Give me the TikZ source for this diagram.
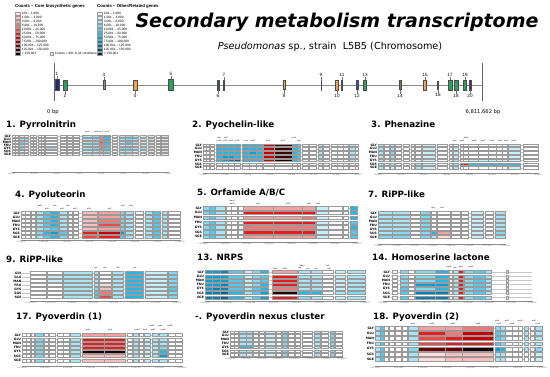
\documentclass[tikz,border=0pt]{standalone}
\usepackage{fontspec}
\setmainfont{DejaVu Sans}
\newfontfamily\narrowsf{Liberation Sans}
\usetikzlibrary{positioning}
\definecolor{core1}{HTML}{FFDCDC}
\definecolor{core2}{HTML}{FFBEBE}
\definecolor{core3}{HTML}{F8A0A0}
\definecolor{core4}{HTML}{F47878}
\definecolor{core5}{HTML}{F04848}
\definecolor{core6}{HTML}{E81C1C}
\definecolor{core7}{HTML}{C80000}
\definecolor{core8}{HTML}{9A0000}
\definecolor{core9}{HTML}{6A0000}
\definecolor{core10}{HTML}{3C0000}
\definecolor{core11}{HTML}{1A0000}
\definecolor{rel1}{HTML}{E4F8FE}
\definecolor{rel2}{HTML}{C8F0FC}
\definecolor{rel3}{HTML}{A6E6F8}
\definecolor{rel4}{HTML}{80DAF4}
\definecolor{rel5}{HTML}{50CAF0}
\definecolor{rel6}{HTML}{1EB8EA}
\definecolor{rel7}{HTML}{00A0D8}
\definecolor{rel8}{HTML}{0082B4}
\definecolor{rel9}{HTML}{006490}
\definecolor{rel10}{HTML}{00466A}
\definecolor{rel11}{HTML}{002A44}
\definecolor{lowgray}{HTML}{E2E2E2}
\definecolor{boxgray}{HTML}{9A9A9A}
\definecolor{axgray}{HTML}{8A8A8A}
\definecolor{chrNavy}{HTML}{1F2A7A}
\definecolor{chrGreen}{HTML}{2E9E5E}
\definecolor{chrSlate}{HTML}{8090B0}
\definecolor{chrOrange}{HTML}{F0A050}
\definecolor{chrDkGreen}{HTML}{2F5F3F}
\definecolor{chrDark}{HTML}{404040}
\definecolor{chrBlue}{HTML}{3050B0}
\definecolor{chrBrown}{HTML}{8B6F47}
\definecolor{chrOlive}{HTML}{6B6B2F}
\definecolor{chrPurple}{HTML}{6A1B7A}
\pgfkeys{/pgf/number format/.cd, fixed, precision=0,
  set thousands separator={{{,}}}, assume math mode=true}
\tikzset{
  maintitle/.style={inner sep=0pt, font=\bfseries\itshape\fontsize{19}{22}\selectfont},
  subtitle/.style={inner sep=0pt, font=\fontsize{9.7}{11}\selectfont},
  paneltitle/.style={anchor=base west, inner sep=0pt, font=\bfseries\fontsize{8.7}{10}\selectfont},
  rowlab/.style={anchor=east, inner sep=0.4pt, font=\bfseries\fontsize{3.1}{3.2}\selectfont},
  rowline/.style={draw=black!22, line width=0.2pt},
  gene/.style={draw=boxgray, line width=0.2pt},
  axisline/.style={draw=axgray, line width=0.25pt},
  ticklab/.style={inner sep=0pt, font=\fontsize{1.8}{2}\selectfont, text=black!60},
  genelab/.style={inner sep=0pt, font=\fontsize{1.8}{2}\selectfont},
  swatch/.style={draw=boxgray, line width=0.15pt, minimum width=5pt,
    minimum height=2.6pt, inner sep=0pt},
  leglab/.style={anchor=west, inner sep=0pt, font=\narrowsf\fontsize{3.2}{3.5}\selectfont},
  legtitle/.style={anchor=west, inner sep=0pt, font=\narrowsf\bfseries\fontsize{4.3}{5}\selectfont},
  chrline/.style={draw=black!45, line width=0.6pt},
  chrend/.style={draw=black!60, line width=0.5pt},
  chrgene/.style={draw=black!70, line width=0.3pt, inner sep=0pt},
  chrlab/.style={inner sep=0.3pt, font=\narrowsf\fontsize{4.6}{5}\selectfont},
  bplab/.style={inner sep=0pt, font=\fontsize{5.2}{6}\selectfont},
  leader/.style={draw=black!55, line width=0.25pt}
}
\newcommand{\setpanel}[2]{\def\ys{#1}\def\rs{#2}\pgfmathsetmacro\bh{0.36*#2}}
\newcommand{\rowlabels}[3]{%
  \foreach \n [count=\i from 0] in {GLY,GLU,MAN,FRU,GYS,SGS,SGE}{
    \node[rowlab] (#1-\n) at (#2,\ys+\rs*\i) {\n};
    \draw[rowline] (#2,\ys+\rs*\i) -- (#3,\ys+\rs*\i);
  }}
\newcommand{\gene}[3]{%
  \foreach \i in {0,...,6}
    \draw[gene, fill=#3] (#1,\ys+\rs*\i-\bh) rectangle (#2,\ys+\rs*\i+\bh);}
\newcommand{\genev}[3]{%
  \foreach \fc [count=\i from 0] in {#3}
    \draw[gene, fill=\fc] (#1,\ys+\rs*\i-\bh) rectangle (#2,\ys+\rs*\i+\bh);}
\newcommand{\scaleaxis}[6]{%
  \draw[axisline] (#2,#4) -- (#3,#4);
  \foreach \t in {0,...,7}{
    \pgfmathsetmacro\xt{#2+(#3-#2)*\t/7}
    \pgfmathtruncatemacro\kv{#5+#6*\t}
    \draw[axisline] (\xt,#4) -- (\xt,#4+0.8);
    \node[ticklab] (#1-t\t) at (\xt,#4+2.2) {\pgfmathprintnumber{\kv},000};
  }}

\begin{document}
\begin{tikzpicture}[x=1pt,y=-1pt]
  \useasboundingbox (0,0) rectangle (550,377);
  \fill[white] (0,0) rectangle (550,377);

  % legends
  \node[legtitle] (legcore) at (15,6) {Counts – Core biosynthetic genes};
  \foreach \c/\t [count=\k from 0] in {core1/{401 – 1,000}, core2/{1,001 – 3,000},
      core3/{3,001 – 6,000}, core4/{6,001 – 10,000}, core5/{10,001 – 25,000},
      core6/{25,001 – 50,000}, core7/{50,001 – 75,000}, core8/{75,001 – 100,000},
      core9/{100,001 – 125,000}, core10/{125,001 – 150,000}, core11/{> 150,001}}{
    \node[swatch, fill=\c] (cs\k) at (18,13.5+4*\k) {};
    \node[leglab, right=1.2pt of cs\k] (ct\k) {\t};
  }
  \node[legtitle] (legrel) at (97,6) {Counts – Other/Related genes};
  \foreach \c/\t [count=\k from 0] in {rel1/{401 – 1,000}, rel2/{1,001 – 3,000},
      rel3/{3,001 – 6,000}, rel4/{6,001 – 10,000}, rel5/{10,001 – 25,000},
      rel6/{25,001 – 50,000}, rel7/{50,001 – 75,000}, rel8/{75,001 – 100,000},
      rel9/{100,001 – 125,000}, rel10/{125,001 – 150,000}, rel11/{> 150,001}}{
    \node[swatch, fill=\c] (rs\k) at (100,13.5+4*\k) {};
    \node[leglab, right=1.2pt of rs\k] (rt\k) {\t};
  }
  \node[swatch, fill=lowgray, minimum width=3pt] (xsw) at (52,53.5) {};
  \node[leglab, right=1pt of xsw] (xnote) {Counts < 401 in all conditions};

  \node[maintitle] (title) at (337,22) {Secondary metabolism transcriptome};
  \node[subtitle] (sub) at (330,47) {\itshape Pseudomonas\upshape{} sp., strain\ \ L5B5 (Chromosome)};

  % chromosome
  \coordinate (chr0) at (54,85);
  \coordinate (chr1) at (482,85);
  \draw[chrline] (chr0) -- (chr1);
  \draw[chrend] (54,63) -- (54,101);
  \draw[chrend] (482,63) -- (482,101);
  \node[bplab] (bp0) at (53,112) {0 bp};
  \node[bplab] (bp1) at (483,112) {6,811,662 bp};
  \foreach \x/\w/\h/\c [count=\k] in {57/3.3/11/chrNavy, 65/3.3/10/chrGreen,
      104/1.8/9/chrSlate, 135/3.3/10/chrOrange, 171/5/11/chrGreen,
      218/1.6/10/chrDkGreen, 224/1.2/10/chrDark, 284/2.2/9/chrOrange,
      321/0.7/10/black, 337/3.2/10/chrOrange, 342/0.9/10/black,
      357/1.6/9/chrBlue, 365/3.2/10/chrGreen, 400/1.6/9/chrBrown,
      425/3.2/10/chrOrange, 438/1.2/8/chrOlive, 450/3.5/10/chrGreen,
      456/4.2/10/chrGreen, 465/3.2/10/chrGreen, 470/2.2/10/chrPurple}
    \node[chrgene, fill=\c, minimum width=\w pt, minimum height=\h pt] (g\k) at (\x,85) {};
  \foreach \k in {1,3,...,19}{
    \node[chrlab, above=3pt of g\k] (l\k) {\k};
    \draw[leader] (l\k) -- (g\k);
  }
  \foreach \k in {2,4,...,20}{
    \node[chrlab, below=4pt of g\k] (l\k) {\k};
    \draw[leader] (l\k) -- (g\k);
  }

  % 1. Pyrrolnitrin
  \node[paneltitle] (t1) at (6,128) {1. Pyrrolnitrin};
  \setpanel{136}{3}
  \rowlabels{p1}{11.5}{168}
  \gene{12}{15}{white}
  \gene{15.5}{18.5}{white}
  \genev{19}{24}{rel2,rel3,rel4,rel3,rel4,rel2,rel2}
  \genev{24.5}{28}{white,rel3,rel3,white,white,white,white}
  \gene{30}{33}{white}
  \gene{33.5}{36}{white}
  \gene{38}{41}{white}
  \gene{41.5}{44}{white}
  \genev{45}{57}{white,white,white,white,rel3,white,white}
  \gene{60}{66}{white}
  \gene{67}{72}{white}
  \gene{73}{79}{white}
  \genev{82}{92}{rel3,rel3,rel3,rel3,rel3,rel2,rel2}
  \genev{92.5}{99}{rel4,rel4,rel4,rel3,rel4,rel3,rel2}
  \genev{99.5}{103}{core4,core4,core5,core4,core4,core3,core1}
  \genev{103.5}{110}{rel6,rel6,rel6,rel5,rel5,rel4,rel3}
  \gene{112}{117}{white}
  \genev{119}{125}{rel3,rel3,rel3,rel2,rel4,rel3,rel2}
  \genev{125.5}{132}{rel4,rel4,rel5,rel3,rel4,rel3,rel2}
  \genev{132.5}{138}{rel3,rel3,rel3,rel2,rel3,rel2,white}
  \genev{140}{146}{rel2,rel2,rel2,rel2,rel3,rel2,white}
  \gene{148}{154}{lowgray}
  \gene{156}{160}{white}
  \gene{161}{168}{lowgray}
  \foreach \x/\t in {87/prnA,96/prnB,101/prnC,107/prnD}
    \node[genelab] (p1-\t) at (\x,132.5) {\t};
  \scaleaxis{a1}{12}{168}{172}{44}{1}

  % 2. Pyochelin-like
  \node[paneltitle] (t2) at (192,128) {2. Pyochelin-like};
  \setpanel{145}{3.8}
  \rowlabels{p2}{202.5}{358}
  \gene{203}{206}{white}
  \gene{206.5}{209.5}{white}
  \gene{210}{214}{white}
  \genev{216}{222}{rel6,rel6,rel6,rel6,rel6,white,white}
  \genev{222.5}{228}{rel6,rel6,rel6,rel7,rel7,white,white}
  \genev{228.5}{234}{rel6,rel6,rel6,rel7,rel8,white,white}
  \genev{234.5}{240}{rel6,rel6,rel6,rel6,rel9,white,white}
  \genev{242}{249}{rel6,rel6,rel6,rel6,rel6,white,white}
  \genev{249.5}{256}{rel6,rel6,rel7,rel6,rel6,white,white}
  \genev{256.5}{262}{rel6,rel6,rel6,rel6,rel6,white,white}
  \genev{263}{274}{core7,core7,core7,core7,core7,white,white}
  \genev{274.5}{292}{core10,core10,core10,core10,core11,white,white}
  \genev{292.5}{297}{rel6,rel6,rel6,rel6,rel6,white,white}
  \genev{297.5}{300}{rel5,rel5,rel5,rel5,rel5,white,white}
  \gene{302}{308}{white}
  \gene{309}{316}{white}
  \genev{318}{322}{rel3,rel3,rel3,rel3,rel3,white,white}
  \gene{323}{329}{white}
  \gene{331}{337}{white}
  \gene{337.5}{343}{white}
  \gene{343.5}{348}{white}
  \genev{349}{355}{rel3,rel3,rel3,rel3,rel3,white,white}
  \gene{355.5}{358}{white}
  \foreach \x/\y/\t in {219/138.5/fptA,226/138.5/fptB,219/141.5/pchR,225/141.5/pchD,
      231/141.5/pchC,237/141.5/pchB,246/141.5/pchA,253/141.5/pchG,268/141.5/pchE,
      283/141.5/pchF,294/138.5/pchH,299/141.5/pchI}
    \node[genelab] (p2-\t) at (\x,\y) {\t};
  \scaleaxis{a2}{203}{358}{173}{170}{2}

  % 3. Phenazine
  \node[paneltitle] (t3) at (371,128) {3. Phenazine};
  \rowlabels{p3}{377.5}{538}
  \genev{378}{383}{rel3,rel3,rel3,rel3,rel3,rel3,rel3}
  \gene{384}{389}{white}
  \genev{390}{394}{rel3,rel3,rel4,rel3,rel3,rel2,rel2}
  \gene{395}{401}{white}
  \gene{403}{409}{white}
  \gene{411}{414}{white}
  \genev{415}{421}{white,white,white,white,white,rel3,rel3}
  \genev{422}{435}{rel2,rel2,rel2,rel2,rel2,rel2,rel2}
  \gene{437}{447}{white}
  \gene{449}{452}{white}
  \genev{453}{458}{white,rel2,rel2,rel2,rel3,rel3,rel3}
  \genev{460}{463}{white,white,white,white,white,core6,white}
  \genev{463.5}{468}{white,white,white,white,white,core6,white}
  \genev{468.5}{478}{white,white,white,white,rel2,rel6,white}
  \genev{478.5}{488}{white,white,white,white,rel2,rel6,white}
  \genev{488.5}{496}{white,white,white,white,rel2,rel6,white}
  \genev{496.5}{502}{white,white,white,white,rel2,rel6,white}
  \genev{502.5}{507}{white,white,white,white,rel2,rel6,white}
  \genev{508}{520}{rel2,rel2,rel2,rel2,rel2,rel6,rel2}
  \gene{523}{538}{white}
  \foreach \x/\y/\t in {455/141.5/phzI,462/141.5/phzR,466/138.5/phzA,474/141.5/phzB,
      483/141.5/phzC,492/141.5/phzD,500/141.5/phzE,506/141.5/phzF,514/141.5/phzG}
    \node[genelab] (p3-\t) at (\x,\y) {\t};
  \scaleaxis{a3}{378}{538}{173}{790}{2}

  % 4. Pyoluteorin
  \node[paneltitle] (t4) at (15,198) {4. Pyoluteorin};
  \setpanel{213}{4}
  \rowlabels{p4}{20.5}{180}
  \gene{21}{25}{white}
  \gene{25.5}{30}{white}
  \gene{31}{35}{white}
  \genev{36}{43}{rel3,rel3,rel3,rel3,rel3,rel4,rel3}
  \genev{43.5}{50}{rel5,rel5,rel5,rel5,rel4,rel6,rel5}
  \genev{50.5}{58}{rel6,rel6,rel6,rel6,rel5,rel7,rel6}
  \genev{59}{67}{rel3,rel3,rel3,rel3,rel3,rel5,rel4}
  \gene{68}{72}{white}
  \gene{73}{78}{white}
  \genev{82}{97}{core2,core2,core2,core2,core2,core6,core5}
  \genev{98}{120}{core3,core3,core4,core5,core3,core7,core6}
  \genev{120.5}{124}{rel4,rel4,rel4,rel4,rel4,rel7,rel5}
  \genev{125}{133}{rel3,rel3,rel3,rel3,rel3,rel3,rel3}
  \gene{135}{143}{white}
  \genev{145}{152}{rel3,rel3,rel3,rel3,rel3,rel3,rel3}
  \genev{153}{160}{rel5,rel5,rel5,rel5,rel5,rel5,rel5}
  \genev{162}{167}{rel3,rel3,rel3,rel3,rel3,rel3,rel3}
  \gene{168}{180}{white}
  \foreach \x/\y/\t in {40/206.5/pltM,47/209.5/pltR,55/206.5/pltL,62/209.5/pltA,
      68/206.5/pltF,75/209.5/pltE,89/209.5/pltB,110/209.5/pltC,123/206.5/pltD,131/206.5/pltG}
    \node[genelab] (p4-\t) at (\x,\y) {\t};
  \scaleaxis{a4}{21}{180}{240}{1280}{4}

  % 5. Orfamide A/B/C
  \node[paneltitle] (t5) at (197,196) {5. Orfamide A/B/C};
  \setpanel{208}{4.8}
  \rowlabels{p5}{202.5}{357}
  \genev{203}{209}{rel4,rel4,rel4,rel4,rel4,rel4,rel4}
  \genev{209.5}{215}{rel5,rel5,rel5,rel5,rel5,rel5,rel5}
  \genev{215.5}{225}{rel3,rel3,rel3,rel3,rel3,rel3,rel3}
  \gene{226}{231}{white}
  \gene{231.5}{237}{white}
  \gene{238}{243}{white}
  \genev{243.5}{273}{core3,core6,core3,core6,core4,core6,core3}
  \genev{273.5}{302}{core3,core6,core3,core6,core4,core6,core3}
  \genev{302.5}{315}{core3,core6,core4,core6,core4,core6,core3}
  \genev{316}{328}{rel2,rel2,rel2,rel2,rel2,rel2,rel2}
  \gene{328.5}{342}{white}
  \gene{343}{348}{white}
  \genev{350}{357}{rel6,rel6,rel6,rel5,rel6,rel5,rel5}
  \foreach \x/\y/\t in {232/200.5/macB,232/203.5/macA,258/203.5/ofaA,288/203.5/ofaB,
      309/203.5/ofaC,318/203.5/ofaR}
    \node[genelab] (p5-\t) at (\x,\y) {\t};
  \scaleaxis{a5}{203}{357}{242}{1850}{10}

  % 7. RiPP-like
  \node[paneltitle] (t7) at (368,198) {7. RiPP-like};
  \setpanel{213}{4}
  \rowlabels{p7}{377.5}{505}
  \genev{378}{392}{rel3,rel3,rel3,rel3,rel3,rel3,rel4}
  \genev{392.5}{410}{rel3,rel3,rel3,rel3,rel3,rel4,rel4}
  \gene{410.5}{420}{white}
  \genev{420.5}{430}{rel4,rel4,rel4,rel4,rel4,rel4,rel4}
  \genev{431}{436}{white,white,white,white,white,rel6,rel3}
  \genev{437}{450}{white,white,white,white,white,core3,core1}
  \gene{451}{460}{white}
  \gene{461}{468}{white}
  \genev{471}{483}{rel2,rel2,rel2,rel2,rel2,rel2,rel2}
  \gene{485}{493}{white}
  \genev{495}{505}{rel3,rel3,rel3,rel3,rel3,rel4,rel3}
  \foreach \x/\t in {433/ripB,442/ripA}
    \node[genelab] (p7-\t) at (\x,208.5) {\t};
  \scaleaxis{a7}{378}{505}{244}{2700}{2}

  % 9. RiPP-like
  \node[paneltitle] (t9) at (6,263) {9. RiPP-like};
  \setpanel{273}{4}
  \rowlabels{p9}{22}{177}
  \gene{30}{46}{white}
  \genev{47}{62}{white,rel2,rel2,white,white,white,white}
  \genev{63}{92}{rel3,rel3,rel3,rel3,rel3,rel3,rel3}
  \genev{94}{98}{rel3,rel3,rel3,rel3,rel4,rel5,rel5}
  \genev{99}{111}{white,white,white,core1,core2,core4,core5}
  \genev{112}{123}{rel3,rel3,rel3,rel3,rel3,rel3,rel3}
  \genev{125}{143}{rel6,rel6,rel6,rel6,rel6,rel6,rel6}
  \genev{145}{167}{rel2,rel2,rel2,rel2,rel2,rel2,rel2}
  \genev{168}{177}{rel4,rel4,rel4,rel4,rel5,rel4,rel4}
  \foreach \x/\t in {96/ripC,105/ripD,118/ripE,135/ripF}
    \node[genelab] (p9-\t) at (\x,268.5) {\t};
  \scaleaxis{a9}{30}{177}{301}{4245}{2}

  % 13. NRPS
  \node[paneltitle] (t13) at (197,261) {13. NRPS};
  \setpanel{272}{4.2}
  \rowlabels{p13}{204.5}{365}
  \genev{205}{212}{rel7,rel7,rel7,rel7,rel7,rel8,rel8}
  \genev{212.5}{220}{rel7,rel7,rel7,rel7,rel8,rel8,rel8}
  \genev{220.5}{228}{rel8,rel7,rel7,rel8,rel8,rel9,rel9}
  \genev{228.5}{243}{rel5,rel5,rel5,rel5,rel5,rel6,rel6}
  \genev{244}{252}{rel2,rel2,rel2,rel2,rel3,rel3,rel3}
  \genev{252.5}{260}{rel4,rel4,rel4,rel4,rel5,rel5,rel5}
  \genev{260.5}{268}{rel6,rel5,rel5,rel6,rel6,rel7,rel7}
  \genev{272}{297}{core3,core6,core6,core6,core4,core11,core6}
  \genev{298}{310}{rel3,rel3,rel3,rel3,rel3,rel6,rel4}
  \genev{311}{322}{rel3,rel3,rel3,rel3,rel3,rel6,rel3}
  \gene{322.5}{333}{white}
  \genev{335}{345}{rel2,rel2,rel2,rel2,rel2,rel3,rel2}
  \genev{347}{365}{rel3,rel3,rel3,rel3,rel3,rel4,rel3}
  \foreach \x/\y/\t in {275/268.5/TauD,285/268.5/NRPS,302/265.5/MbtH,300/268.5/sfp,
      308/268.5/abc,316/268.5/mfs,328/265.5/luxR,329/268.5/tetR}
    \node[genelab] (p13-\t) at (\x,\y) {\t};
  \scaleaxis{a13}{205}{365}{301}{4940}{10}

  % 14. Homoserine lactone
  \node[paneltitle] (t14) at (372,261) {14. Homoserine lactone};
  \rowlabels{p14}{390.5}{532}
  \gene{392}{397}{white}
  \genev{400}{408}{rel4,rel4,rel4,rel4,rel5,rel5,rel5}
  \gene{408.5}{414}{white}
  \genev{415}{435}{rel4,rel4,rel4,rel7,rel4,rel8,rel8}
  \genev{435.5}{448}{rel6,rel6,rel6,rel7,rel6,rel8,rel8}
  \gene{449}{452}{white}
  \genev{453}{458}{rel3,rel3,rel3,rel3,rel3,rel3,rel3}
  \genev{458.5}{463}{core6,core6,core6,core6,core6,core6,core6}
  \genev{464}{473}{rel4,rel4,rel4,rel4,rel4,rel4,rel4}
  \genev{473.5}{485}{rel5,rel5,rel5,rel5,rel5,rel5,rel5}
  \genev{485.5}{491}{rel3,rel3,rel3,rel3,rel3,rel3,rel3}
  \gene{506}{508}{lowgray}
  \foreach \x/\t in {449/ppuR,455/rsaL,461/ppuI,471/ppuA}
    \node[genelab] (p14-\t) at (\x,267.5) {\t};
  \scaleaxis{a14}{383}{532}{301}{5500}{2}

  % 17. Pyoverdin (1)
  \node[paneltitle] (t17) at (16,320) {17. Pyoverdin (1)};
  \setpanel{335}{4.2}
  \rowlabels{p17}{21.5}{182}
  \gene{22}{26}{white}
  \gene{26.5}{30}{white}
  \gene{31}{34}{white}
  \genev{35}{43}{rel4,rel4,rel4,rel4,rel4,rel4,rel4}
  \gene{44}{48}{white}
  \gene{49}{55}{white}
  \gene{57}{63}{white}
  \gene{63.5}{69}{white}
  \genev{70}{80}{rel3,rel3,rel3,rel3,rel3,rel3,rel3}
  \genev{82}{104}{core3,core6,core6,core6,core11,core2,core2}
  \genev{104.5}{125}{core3,core6,core6,core6,core11,core2,core2}
  \gene{127}{132}{white}
  \genev{133}{138}{rel3,rel3,rel3,rel3,rel3,rel3,rel3}
  \gene{139}{143}{white}
  \genev{144}{150}{rel2,rel2,rel2,rel2,rel2,rel2,rel2}
  \genev{152}{158}{rel3,rel3,rel3,rel3,rel3,rel3,rel3}
  \genev{159}{167}{rel3,rel3,rel3,rel4,rel6,rel7,rel3}
  \gene{168}{175}{white}
  \gene{175.5}{182}{white}
  \foreach \x/\y/\t in {88/330.5/pvdL,110/330.5/pvdI,137/330.5/pvdH,145/330.5/fpvA,
      152/326.5/pvdE,153/330.5/pvdF,160/326.5/pvdO,163/330.5/pvdN,170/326.5/pvdM}
    \node[genelab] (p17-\t) at (\x,\y) {\t};
  \scaleaxis{a17}{22}{182}{366}{6290}{10}

  % -. Pyoverdin nexus cluster
  \node[paneltitle] (tnx) at (195,320) {-. Pyoverdin nexus cluster};
  \setpanel{332}{3.8}
  \rowlabels{pnx}{229.5}{342}
  \gene{230}{234}{white}
  \gene{234.5}{238}{white}
  \genev{239}{246}{rel3,rel3,rel3,rel3,rel6,rel3,rel3}
  \genev{246.5}{252}{rel3,rel3,rel3,rel3,rel6,rel3,rel2}
  \gene{253}{258}{white}
  \gene{259}{264}{white}
  \genev{265}{275}{rel2,rel2,rel2,rel2,rel3,rel2,rel2}
  \gene{276}{281}{white}
  \genev{282}{287}{rel4,rel4,rel4,rel4,rel4,rel4,rel4}
  \gene{288}{294}{white}
  \gene{295}{300}{white}
  \gene{302}{312}{white}
  \genev{314}{320}{rel3,rel3,rel3,rel3,rel3,rel3,rel3}
  \gene{321}{328}{white}
  \genev{330}{334}{rel4,rel4,rel4,rel4,rel4,rel4,rel4}
  \gene{335}{342}{white}
  \scaleaxis{anx}{230}{342}{357}{6320}{2}

  % 18. Pyoverdin (2)
  \node[paneltitle] (t18) at (373,320) {18. Pyoverdin (2)};
  \setpanel{328}{5.2}
  \rowlabels{p18}{374.5}{542}
  \genev{375}{380}{rel3,rel3,rel3,rel3,rel3,rel3,rel3}
  \genev{380.5}{384}{rel5,rel5,rel5,rel5,rel5,rel5,rel5}
  \gene{384.5}{388}{white}
  \gene{389}{394}{white}
  \gene{395}{401}{white}
  \gene{402}{407}{white}
  \genev{408}{418}{rel3,rel3,rel3,rel3,rel4,rel3,rel3}
  \genev{418.5}{445}{core3,core6,core5,core5,core9,core1,core1}
  \genev{445.5}{462}{core3,core4,core6,core6,core9,core2,core2}
  \genev{462.5}{493}{core4,core7,core7,core6,core11,core2,core2}
  \genev{495}{500}{rel4,rel5,rel5,rel5,rel7,rel3,rel3}
  \genev{500.5}{505}{rel3,rel4,rel4,rel4,rel6,rel3,rel3}
  \gene{505.5}{512}{white}
  \gene{512.5}{518}{white}
  \gene{518.5}{522}{white}
  \genev{524}{528}{rel3,rel3,rel3,rel3,rel3,white,white}
  \gene{530}{534}{white}
  \genev{535}{542}{rel3,rel3,rel3,rel3,rel4,rel2,rel2}
  \foreach \x/\y/\t in {413/324.5/pvdJ,432/324.5/pvdK,453/324.5/pvdD,478/324.5/pvdP,
      497/321.5/pvdS,499/324.5/fpvR,507/321.5/pvdT,512/324.5/pvdQ,520/321.5/pvdU,
      534/321.5/pvdY,538/324.5/pvdX}
    \node[genelab] (p18-\t) at (\x,\y) {\t};
  \scaleaxis{a18}{375}{542}{366}{6380}{10}
\end{tikzpicture}
\end{document}
